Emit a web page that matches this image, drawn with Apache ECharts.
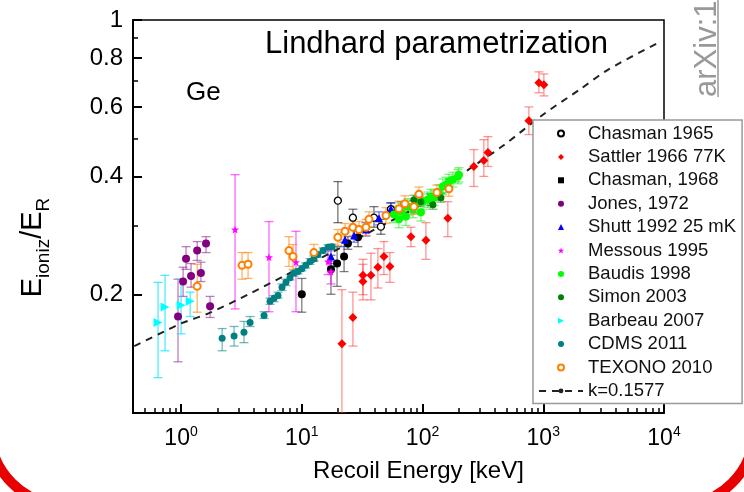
<!DOCTYPE html>
<html><head><meta charset="utf-8">
<script src="https://cdn.jsdelivr.net/npm/echarts@6/dist/echarts.min.js"></script>
<style>html,body{margin:0;padding:0;background:#fff}#c{width:744px;height:492px}</style>
</head><body><div id="c"></div>
<script>
// ---- tick values ----
const xMajor = [1, 10, 100, 1000, 10000];
const xMinor = [0.4,0.5,0.6,0.7,0.8,0.9, 2,3,4,5,6,7,8,9, 20,30,40,50,60,70,80,90, 200,300,400,500,600,700,800,900, 2000,3000,4000,5000,6000,7000,8000,9000];
const yMajor = [0.2, 0.4, 0.6, 0.8, 1];
const yMinor = [0.3, 0.5, 0.7, 0.9];

// ---- data rows: [recoil energy keV, Eioniz/ER, error low, error high] ----
const chasman1965 = [[19.9,0.347,0.305,0.388],[26.5,0.314,0.297,0.330],[39.6,0.314,0.297,0.335],[45.2,0.298,0.285,0.311],[54.7,0.330,0.318,0.342],[84.9,0.335,0.323,0.347],[117,0.349,0.337,0.361]];
const sattler1966 = [[21.5,0.150,0.1,0.206],[26.5,0.175,0.148,0.203],[32.1,0.216,0.194,0.246],[32.1,0.224,0.200,0.239],[37.4,0.224,0.194,0.255],[42.7,0.235,0.208,0.262],[47.9,0.250,0.225,0.273],[53.7,0.236,0.215,0.256],[80.2,0.281,0.265,0.297],[106.7,0.275,0.246,0.305],[162,0.313,0.281,0.345],[266,0.424,0.377,0.468],[322,0.439,0.400,0.496],[348,0.460,0.424,0.505],[760,0.554,0.511,0.601],[920,0.692,0.653,0.738],[1012,0.684,0.641,0.729]];
const chasman1968 = [[10.0,0.2005,0.1805,0.220],[17.45,0.232,0.2005,0.252],[19.6,0.240,0.210,0.265],[22.4,0.250,0.229,0.272],[24.1,0.270,0.261,0.281],[29.2,0.280,0.265,0.290]];
const jones1972 = [[0.944,0.176,0.135,0.219],[1.04,0.216,0.198,0.235],[1.10,0.247,0.232,0.265],[1.21,0.223,0.209,0.240],[1.36,0.259,0.2445,0.273],[1.46,0.227,0.216,0.242],[1.61,0.270,0.256,0.281],[1.74,0.187,0.175,0.198]];
const shutt1992 = [[17.45,0.250,0.240,0.261],[22.8,0.276,0.265,0.288],[27.1,0.283,0.272,0.294],[34.0,0.293,0.282,0.305],[43.6,0.313,0.301,0.325],[54.7,0.331,0.320,0.343],[66.3,0.333,0.322,0.345]];
const messous1995 = [[2.80,0.293,0.184,0.404],[5.35,0.249,0.181,0.307],[8.95,0.242,0.181,0.290],[16.5,0.243,0.225,0.258],[17.45,0.229,0.213,0.243]];
const baudis1998 = [[58.0,0.320,0.305,0.336],[63.8,0.311,0.296,0.327],[66.3,0.326,0.310,0.342],[72.9,0.316,0.300,0.332],[75.7,0.335,0.319,0.351],[83.3,0.330,0.314,0.346],[91.6,0.343,0.327,0.359],[97.0,0.324,0.308,0.340],[100.8,0.345,0.329,0.361],[110.8,0.349,0.333,0.365],[117.4,0.355,0.339,0.371],[124.3,0.353,0.337,0.369],[136.7,0.364,0.347,0.381],[147.5,0.377,0.360,0.394],[156.2,0.381,0.364,0.398],[165.4,0.388,0.371,0.405],[178.5,0.393,0.376,0.410],[196.3,0.400,0.383,0.417],[200.1,0.404,0.387,0.421]];
const simon2003 = [[84.9,0.349,0.340,0.358],[97.0,0.345,0.336,0.354],[121.9,0.339,0.330,0.348],[142.0,0.353,0.344,0.362]];
const barbeau2007 = [[0.645,0.170,0.123,0.215],[0.737,0.186,0.144,0.224],[1.00,0.188,0.159,0.219],[1.19,0.1925,0.176,0.203]];
const cdms2011 = [[2.19,0.155,0.144,0.164],[2.75,0.157,0.148,0.166],[3.32,0.1605,0.151,0.171],[3.73,0.170,0.166,0.176],[4.87,0.177,0.174,0.181],[5.46,0.1925,0.189,0.196],[5.89,0.196,0.192,0.199],[6.35,0.199,0.196,0.203],[6.86,0.209,0.205,0.213],[7.40,0.215,0.211,0.219],[7.99,0.221,0.218,0.225],[8.62,0.227,0.223,0.230],[9.30,0.229,0.226,0.233],[10.0,0.233,0.230,0.237],[10.8,0.2375,0.234,0.241],[11.7,0.243,0.239,0.247],[12.6,0.247,0.243,0.251],[13.6,0.253,0.249,0.257],[15.0,0.259,0.255,0.263],[16.5,0.264,0.260,0.268],[17.8,0.265,0.261,0.269]];
const texono2010 = [[1.36,0.210,0.1805,0.239],[3.20,0.2375,0.219,0.256],[3.59,0.239,0.220,0.256],[7.83,0.259,0.236,0.281],[8.46,0.250,0.232,0.2685],[12.6,0.256,0.2445,0.2685],[19.9,0.280,0.267,0.293],[22.8,0.290,0.276,0.3035],[26.5,0.297,0.283,0.311],[29.8,0.293,0.280,0.307],[34.0,0.297,0.283,0.311],[36.0,0.311,0.297,0.325],[49.8,0.318,0.304,0.333],[63.8,0.331,0.317,0.346],[71.5,0.341,0.326,0.357],[84.9,0.335,0.320,0.350],[93.4,0.360,0.344,0.376],[131.5,0.364,0.348,0.380],[165.4,0.372,0.356,0.389]];
// Lindhard curve k=0.1577: [keV, value]
const lindhard = [[0.41,0.148],[0.78,0.163],[1.0,0.169],[1.74,0.180],[3.8,0.202],[7.5,0.225],[14.4,0.248],[40,0.293],[100,0.341],[237,0.415],[470,0.48],[1000,0.575],[2000,0.665],[3500,0.75],[9000,0.875]];

const FONT = '"Liberation Sans", Arial, sans-serif';
const STAR = 'path://M0,-10L2.35,-3.24L9.51,-3.09L3.8,1.24L5.88,8.09L0,4L-5.88,8.09L-3.8,1.24L-9.51,-3.09L-2.35,-3.24Z';
const P_DIAMOND = 'path://M0,-1L1,0L0,1L-1,0Z';
const P_RECT = 'path://M-1,-1L1,-1L1,1L-1,1Z';
const P_TRI = 'path://M0,-1L1,1L-1,1Z';
const P_TRI_RIGHT = 'path://M1,0L-1,1L-1,-1Z';
const P_CIRCLE = 'path://M1,0A1,1,0,1,1,-1,0A1,1,0,1,1,1,0Z';

const defs = [
  {name:'Chasman 1965', data:chasman1965, symbol:'circle', size:7, fill:'#fff', border:'#000', bw:1.3, err:'rgba(0,0,0,0.55)', icon:P_CIRCLE},
  {name:'Sattler 1966 77K', data:sattler1966, symbol:'diamond', size:9, fill:'#ff0000', err:'rgba(255,60,60,0.55)', icon:P_DIAMOND},
  {name:'Chasman, 1968', data:chasman1968, symbol:'circle', size:8, fill:'#000', err:'rgba(0,0,0,0.5)', icon:P_RECT},
  {name:'Jones, 1972', data:jones1972, symbol:'circle', size:8, fill:'#800080', err:'rgba(128,0,128,0.5)', icon:P_CIRCLE},
  {name:'Shutt 1992 25 mK', data:shutt1992, symbol:'triangle', size:8, fill:'#0000ff', err:'rgba(0,0,255,0.5)', icon:P_TRI},
  {name:'Messous 1995', data:messous1995, symbol:STAR, size:8, fill:'#ff00ff', err:'rgba(255,0,255,0.6)', icon:STAR},
  {name:'Baudis 1998', data:baudis1998, symbol:'circle', size:8, fill:'#00ff00', err:'rgba(0,230,0,0.5)', icon:P_CIRCLE},
  {name:'Simon 2003', data:simon2003, symbol:'circle', size:7, fill:'#008000', err:'rgba(0,128,0,0.5)', icon:P_CIRCLE},
  {name:'Barbeau 2007', data:barbeau2007, symbol:P_TRI_RIGHT, size:9, fill:'#00ffff', err:'rgba(0,230,255,0.7)', icon:P_TRI_RIGHT},
  {name:'CDMS 2011', data:cdms2011, symbol:'circle', size:7, fill:'#008080', err:'rgba(0,128,128,0.55)', icon:P_CIRCLE},
  {name:'TEXONO 2010', data:texono2010, symbol:'circle', size:7, fill:'#fff', border:'#ff8000', bw:2, err:'rgba(255,128,0,0.6)', icon:P_CIRCLE}
];

function errRender(color) {
  return function (params, api) {
    const x = api.value(0), lo = api.value(2), hi = api.value(3);
    const a = api.coord([x, hi]), b = api.coord([x, lo]);
    const w = 4.5;
    const st = {stroke: color, lineWidth: 1.3, fill: null};
    return {type:'group', children:[
      {type:'line', shape:{x1:a[0], y1:a[1], x2:b[0], y2:b[1]}, style:st},
      {type:'line', shape:{x1:a[0]-w, y1:a[1], x2:a[0]+w, y2:a[1]}, style:st},
      {type:'line', shape:{x1:b[0]-w, y1:b[1], x2:b[0]+w, y2:b[1]}, style:st}
    ]};
  };
}

const series = [];
defs.forEach(function (d) {
  series.push({type:'custom', name:d.name + ' err', data:d.data, renderItem:errRender(d.err),
    encode:{x:0, y:[1,2,3]}, z:2, silent:true, clip:true});
});
defs.forEach(function (d) {
  series.push({type:'scatter', name:d.name, data:d.data, symbol:d.symbol, symbolSize:d.size,
    encode:{x:0, y:1}, z:4, clip:true,
    itemStyle:{color:d.fill, borderColor:d.border || d.fill, borderWidth:d.bw || 0, opacity:1}});
});
series.push({type:'line', name:'k=0.1577', data:lindhard, symbol:'none', showSymbol:false, smooth:0.3, z:3,
  lineStyle:{type:[7,6], width:2, color:'#222'}, itemStyle:{color:'#222'}});

const legendData = defs.map(function (d) { return {name:d.name, icon:d.icon}; });
legendData.push({name:'k=0.1577'});

const chart = echarts.init(document.getElementById('c'), null, {renderer:'canvas'});
chart.setOption({
  backgroundColor:'#fff',
  animation:false,
  textStyle:{fontFamily:FONT},
  grid:[
    {left:133, right:80, top:20, bottom:79, show:true, borderColor:'#000', borderWidth:1.5, backgroundColor:'transparent'},
    {left:133, right:80, top:20, bottom:79, show:false}
  ],
  xAxis:[
    {type:'log', logBase:10, min:0.4, max:10000, gridIndex:0, position:'bottom',
     axisLine:{show:true, onZero:false, lineStyle:{color:'#000', width:2}},
     axisTick:{show:true, inside:true, length:9, customValues:xMajor, lineStyle:{color:'#000', width:2}},
     axisLabel:{show:true, customValues:xMajor, margin:12, color:'#000',
       formatter:function (v) { return '{b|10}{s|' + Math.round(Math.log10(v)) + '}'; },
       rich:{b:{fontSize:23, fontFamily:FONT, color:'#000', lineHeight:28}, s:{fontSize:14, fontFamily:FONT, color:'#000', verticalAlign:'top', lineHeight:16}}},
     splitLine:{show:false},
     name:'Recoil Energy [keV]', nameLocation:'middle', nameGap:46,
     nameTextStyle:{fontSize:24, fontFamily:FONT, color:'#000', padding:[0,0,0,40]}},
    {type:'log', logBase:10, min:0.4, max:10000, gridIndex:1, position:'bottom',
     axisLine:{show:false}, axisLabel:{show:false}, splitLine:{show:false},
     axisTick:{show:true, inside:true, length:5, customValues:xMinor, lineStyle:{color:'#000', width:1.5}}}
  ],
  yAxis:[
    {type:'log', logBase:10, min:0.1, max:1, gridIndex:0, position:'left',
     axisLine:{show:true, onZero:false, lineStyle:{color:'#000', width:2}},
     axisTick:{show:true, inside:true, length:9, customValues:yMajor, lineStyle:{color:'#000', width:2}},
     axisLabel:{show:true, customValues:yMajor, margin:10, fontSize:24, fontFamily:FONT, color:'#000',
       formatter:function (v) { return String(Math.round(v * 10) / 10); }},
     splitLine:{show:false},
     name:'{a|E}{b|ioniz}{a|/E}{b|R}', nameLocation:'middle', nameRotate:90, nameGap:80,
     nameTextStyle:{padding:[0,62,0,0], rich:{a:{fontSize:29, fontFamily:FONT, color:'#000', lineHeight:40}, b:{fontSize:19, fontFamily:FONT, color:'#000', verticalAlign:'bottom', lineHeight:19}}}},
    {type:'log', logBase:10, min:0.1, max:1, gridIndex:1, position:'left',
     axisLine:{show:false}, axisLabel:{show:false}, splitLine:{show:false},
     axisTick:{show:true, inside:true, length:5, customValues:yMinor, lineStyle:{color:'#000', width:1.5}}}
  ],
  legend:{
    orient:'vertical', left:533, top:120, z:10,
    itemWidth:44, itemHeight:6, itemGap:4.4, symbolKeepAspect:true,
    padding:[4, 6, 3, 5],
    backgroundColor:'#fff', borderColor:'#999', borderWidth:1.5,
    textStyle:{fontFamily:FONT, fontSize:18.5, color:'#111', lineHeight:18},
    selectedMode:false,
    data:legendData
  },
  graphic:[
    {type:'text', x:186, y:93, z:5, style:{text:'Ge', fontSize:26, fontFamily:FONT, fill:'#000', align:'left', verticalAlign:'middle'}},
    {type:'text', x:265, y:44, z:5, style:{text:'Lindhard parametrization', fontSize:31, fontFamily:FONT, fill:'#000', align:'left', verticalAlign:'middle'}},
    {type:'text', x:707, y:97, rotation:Math.PI/2, z:5, style:{text:'arXiv:1', fontSize:31, fontFamily:FONT, fill:'#999', align:'left', verticalAlign:'middle'}},
    {type:'line', z:5, shape:{x1:718, y1:0, x2:718, y2:97}, style:{stroke:'#999', lineWidth:1.5}},
    {type:'rect', z:6, shape:{x:-10, y:-400, width:764, height:905, r:75}, style:{fill:null, stroke:'#e60000', lineWidth:10}}
  ],
  series:series
});
</script>
</body></html>
